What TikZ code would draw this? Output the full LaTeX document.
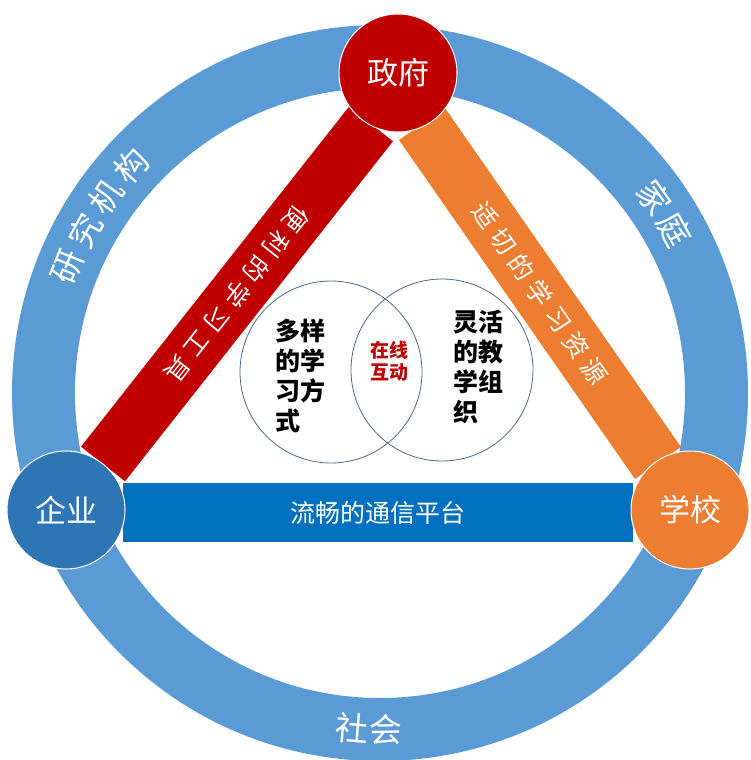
\documentclass[tikz,border=0pt]{standalone}
\usepackage{fontspec}
\setmainfont{Noto Sans CJK SC}
\newfontfamily\spacedcjk[LetterSpace=27]{Noto Sans CJK SC}
\usetikzlibrary{positioning}
\definecolor{ringblue}{RGB}{91,155,213}
\definecolor{govred}{RGB}{192,0,0}
\definecolor{schoolorange}{RGB}{237,125,49}
\definecolor{platblue}{RGB}{0,112,192}
\definecolor{entblue}{RGB}{46,117,182}
\definecolor{vennline}{RGB}{74,104,138}
\tikzset{
  % the three partners on the ring
  hub/.style = {
    circle,
    draw = white,
    line width = 1pt,
    minimum size = 118pt,
    inner sep = 0pt,
    text = white,
    font = \fontsize{31}{31}\selectfont
  },
  % text lying on a band
  band text/.style = {
    text = white,
    font = \spacedcjk\fontsize{25}{25}\selectfont
  },
  % one letter on the outer ring
  ring text/.style = {
    text = white,
    inner sep = 0pt,
    font = \fontsize{33}{33}\selectfont
  },
  venn/.style = {
    circle,
    draw = vennline,
    line width = 0.8pt,
    minimum size = 182pt,
    inner sep = 0pt
  },
  venn text/.style = {
    align = left,
    font = \bfseries\fontsize{25}{30}\selectfont
  }
}
\begin{document}
\begin{tikzpicture}[x=1pt, y=-1pt]
    \useasboundingbox (0,0) rectangle (751,760);
    \coordinate (ring) at (380,393);
    \draw[ringblue, line width=63pt] (ring) circle[radius=336.5pt];

    % band ends
    \coordinate (tool-top) at (371,124);
    \coordinate (tool-bot) at (103,464);
    \coordinate (res-top) at (422,124);
    \coordinate (res-bot) at (658,463);
    \coordinate (net-left) at (123,512.5);
    \coordinate (net-right) at (633,512.5);

    \draw[govred, line width=56pt] (tool-top) -- (tool-bot)
    node[midway, sloped, allow upside down, band text] (tools) {便利的学习工具};
    \draw[schoolorange, line width=56pt] (res-top) -- (res-bot)
    node[midway, sloped, band text] (resources) {适切的学习资源};
    \draw[platblue, line width=59pt] (net-left) -- (net-right)
    node[midway, text=white, font=\fontsize{25}{25}\selectfont] (platform) {流畅的通信平台};

    \node[hub, fill=govred] (gov) at (398,73) {政府};
    \node[hub, fill=entblue] (ent) at (66,510) {企业};
    \node[hub, fill=schoolorange] (school) at (690,510) {学校};

    \foreach \ch [count=\i, evaluate=\i as \a using 158-6.8*(\i-1)] in {研,究,机,构}
    \node[ring text, rotate=\a-90] (inst-\i) at ([shift={(\a:336.5pt)}]ring) {\ch};
    \foreach \ch [count=\i, evaluate=\i as \a using 35.5-6.5*(\i-1)] in {家,庭}
    \node[ring text, rotate=\a-90] (home-\i) at ([shift={(\a:336.5pt)}]ring) {\ch};
    \foreach \ch [count=\i, evaluate=\i as \a using -94.8+5.8*(\i-1)] in {社,会}
    \node[ring text, rotate=\a+90] (soc-\i) at ([shift={(\a:336.5pt)}]ring) {\ch};

    \node[venn] (ways-circle) at (331,372) {};
    \node[venn] (org-circle) at (442,370) {};
    \node[venn text] (ways) at (300,376) {多样\\的学\\习方\\式};
    \node[venn text] (org) at (478,367) {灵活\\的教\\学组\\织};
    \node[align=center, text=govred, font=\bfseries\fontsize{19}{22}\selectfont] (online) at (389,361) {在线\\互动};
\end{tikzpicture}
\end{document}
